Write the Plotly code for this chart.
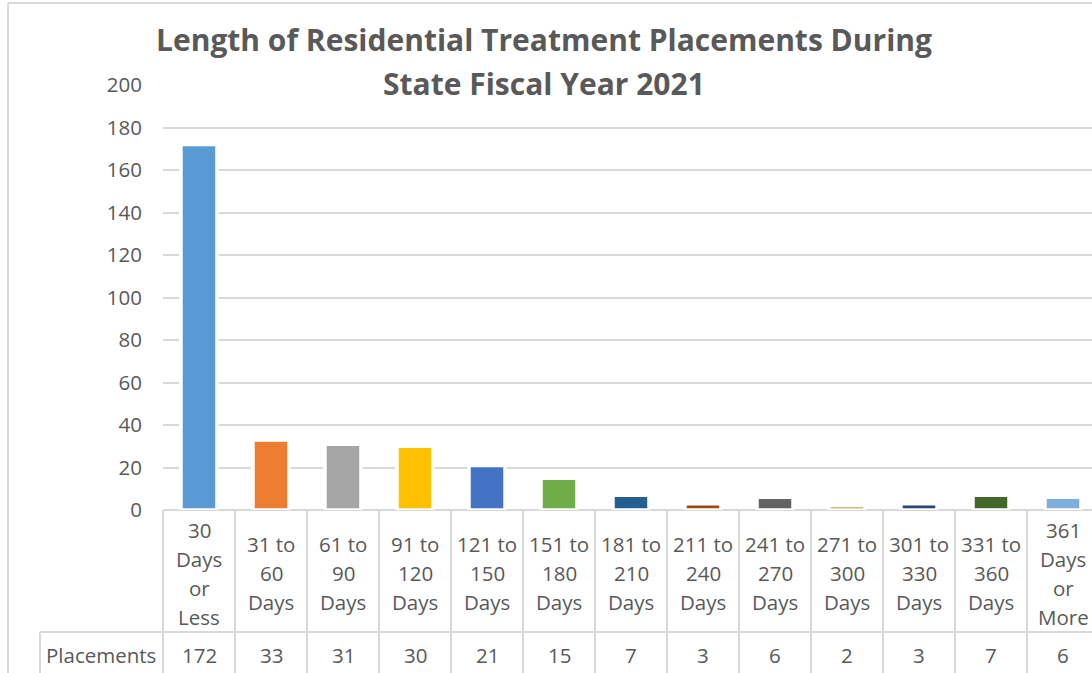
import plotly.graph_objects as go

# ---- data ----
categories = ["30\nDays\nor\nLess", "31 to\n60\nDays", "61 to\n90\nDays", "91 to\n120\nDays",
              "121 to\n150\nDays", "151 to\n180\nDays", "181 to\n210\nDays", "211 to\n240\nDays",
              "241 to\n270\nDays", "271 to\n300\nDays", "301 to\n330\nDays", "331 to\n360\nDays",
              "361\nDays\nor\nMore"]
placements = [172, 33, 31, 30, 21, 15, 7, 3, 6, 2, 3, 7, 6]
series_name = "Placements"
bar_colors = ["#5B9BD5", "#ED7D31", "#A5A5A5", "#FFC000", "#4472C4", "#70AD47", "#255E91",
              "#9E480E", "#636363", "#997300", "#264478", "#43682B", "#7CAFDD"]
title_lines = ["Length of Residential Treatment Placements During", "State Fiscal Year 2021"]
y_ticks = list(range(0, 201, 20))

# ---- geometry (page pixels) ----
W, H = 1092, 673
PLOT_L, PLOT_T, PLOT_B = 163, 85, 510
ML, MT, MB = PLOT_L, PLOT_T, H - PLOT_B
PW, PH = W - ML, PLOT_B - PLOT_T
COL = 72  # pixel width of a category column
FONT = "Open Sans"
TXT = "#595959"
GRID = "#D9D9D9"
FS = 20.5


def py(p):  # page pixel y -> paper y
    return (PLOT_B - p) / PH


def px(p):  # page pixel x -> paper x
    return (p - PLOT_L) / PW


n = len(categories)
xs = list(range(n))

fig = go.Figure()
fig.add_trace(go.Bar(
    x=xs, y=placements, name=series_name,
    marker=dict(color=bar_colors, line=dict(color="white", width=3.5)),
    width=0.5,
))

shapes = []
line = dict(color=GRID, width=2)
# table vertical lines
shapes.append(dict(type="line", xref="paper", yref="paper", x0=0, x1=0, y0=py(510), y1=py(H + 20), line=line))
for i in range(1, n + 1):
    shapes.append(dict(type="line", xref="x", yref="paper", x0=i - 0.5, x1=i - 0.5,
                       y0=py(510), y1=py(H + 20), line=line))
# row separator
shapes.append(dict(type="line", xref="paper", yref="paper", x0=px(40), x1=1.02, y0=py(632), y1=py(632), line=line))
# left border of series-name cell
shapes.append(dict(type="line", xref="paper", yref="paper", x0=px(40), x1=px(40), y0=py(632), y1=py(H + 20), line=line))
# outer chart border (left & top)
shapes.append(dict(type="line", xref="paper", yref="paper", x0=px(8), x1=px(8), y0=py(3), y1=py(H + 20), line=line))
shapes.append(dict(type="line", xref="paper", yref="paper", x0=px(8), x1=1.02, y0=py(3), y1=py(3), line=line))

annotations = []
# title
title_y = [40, 83]
for t, yy in zip(title_lines, title_y):
    annotations.append(dict(text="<b>" + t + "</b>", xref="paper", yref="paper", x=px(544), y=py(yy),
                            xanchor="center", yanchor="middle", showarrow=False,
                            font=dict(family=FONT, size=30, color=TXT)))
# category labels
for i, lab in enumerate(categories):
    parts = lab.split("\n")
    m = len(parts)
    for k, s in enumerate(parts):
        yy = 573 + (k - (m - 1) / 2) * 29
        annotations.append(dict(text=s, xref="x", yref="paper", x=i, y=py(yy), xanchor="center",
                                yanchor="middle", showarrow=False,
                                font=dict(family=FONT, size=FS, color=TXT)))
# values row
annotations.append(dict(text=series_name, xref="paper", yref="paper", x=px(101), y=py(655),
                        xanchor="center", yanchor="middle", showarrow=False,
                        font=dict(family=FONT, size=FS, color=TXT)))
for i, v in enumerate(placements):
    annotations.append(dict(text=str(v), xref="x", yref="paper", x=i, y=py(655), xanchor="center",
                            yanchor="middle", showarrow=False,
                            font=dict(family=FONT, size=FS, color=TXT)))

fig.update_layout(
    width=W, height=H,
    margin=dict(l=ML, r=0, t=MT, b=MB, pad=0),
    paper_bgcolor="white", plot_bgcolor="white",
    showlegend=False,
    shapes=shapes, annotations=annotations,
    xaxis=dict(range=[-0.5, -0.5 + PW / COL], showticklabels=False, showgrid=False,
               zeroline=False, showline=False, ticks=""),
    yaxis=dict(range=[0, 200], tickvals=y_ticks, showgrid=True, gridcolor=GRID, gridwidth=2,
               zeroline=True, zerolinecolor=GRID, zerolinewidth=2, showline=False, ticks="",
               tickfont=dict(family=FONT, size=FS, color=TXT), ticklabelstandoff=20),
    font=dict(family=FONT, color=TXT),
)

fig.write_html("out.html", config={"displayModeBar": False},
               post_script="document.body.style.margin='0';document.body.style.overflow='hidden';")
